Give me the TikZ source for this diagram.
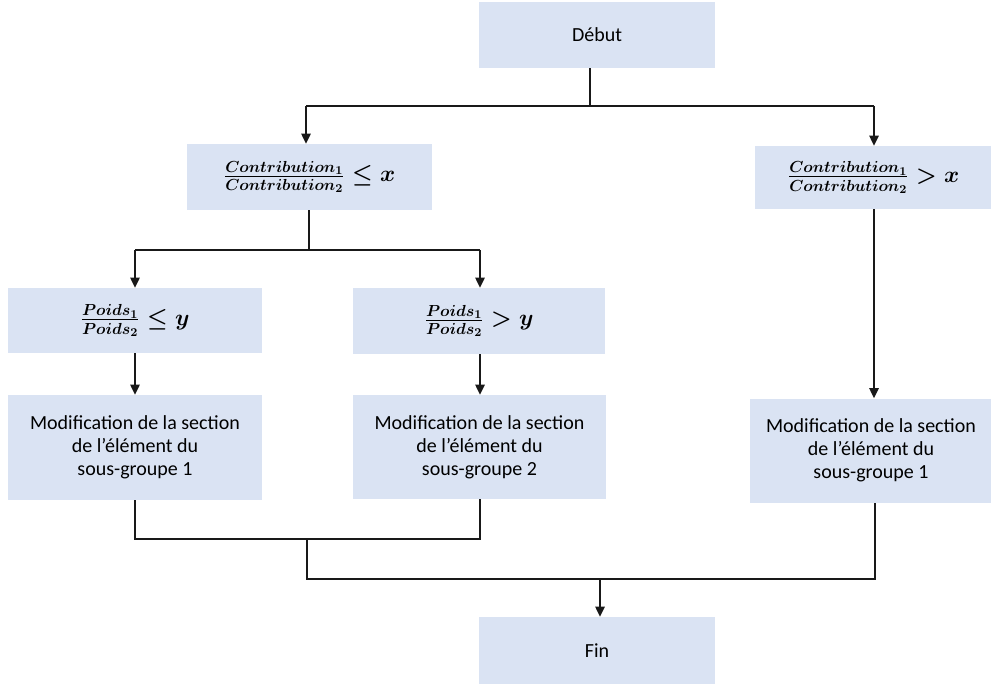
\documentclass[tikz,border=0pt]{standalone}
\usepackage{fontspec}
\setmainfont{Carlito}
\usetikzlibrary{arrows.meta}
\DeclareMathSizes{17}{17}{13}{9}
\definecolor{boxblue}{RGB}{218,227,243}
\tikzset{
  fbox/.style={fill=boxblue, draw=none, inner sep=0pt, align=center,
    font=\fontsize{15}{17.25}\selectfont},
  conn/.style={line width=1.1pt, draw=black!90},
  arr/.style={conn, -{Triangle[width=7pt,length=7.5pt]}},
  mathtxt/.style={font=\fontsize{17}{20}\selectfont\boldmath}
}
\begin{document}
\begin{tikzpicture}[x=0.75pt,y=-0.75pt]
\useasboundingbox (0,0) rectangle (991,684);
% boxes
\node[fbox, minimum width=177pt, minimum height=49.5pt] (deb) at (597,35) {Début};
\node[fbox, mathtxt, minimum width=183.75pt, minimum height=49.5pt] (c1) at (309.5,177)
  {$\frac{Contribution_1}{Contribution_2}\leq x$};
\node[fbox, mathtxt, minimum width=177.75pt, minimum height=47.25pt] (c2) at (873.5,177.5)
  {$\frac{Contribution_1}{Contribution_2}> x$};
\node[fbox, mathtxt, minimum width=190.5pt, minimum height=48.75pt] (p1) at (135,320.5)
  {$\frac{Poids_1}{Poids_2}\leq y$};
\node[fbox, mathtxt, minimum width=189pt, minimum height=49.5pt] (p2) at (479,321)
  {$\frac{Poids_1}{Poids_2}> y$};
\node[fbox, minimum width=190.5pt, minimum height=78.75pt] (m1) at (135,447.5)
  {Modification de la section\\de l’élément du\\sous-groupe 1};
\node[fbox, minimum width=189.75pt, minimum height=78pt] (m2) at (479.5,447)
  {Modification de la section\\de l’élément du\\sous-groupe 2};
\node[fbox, minimum width=181.5pt, minimum height=78pt] (m3) at (871,450.5)
  {Modification de la section\\de l’élément du\\sous-groupe 1};
\node[fbox, minimum width=177pt, minimum height=51pt] (fin) at (597,651) {Fin};
% junction coordinates
\coordinate (j0) at (590,106);
\coordinate (jl) at (306,106);
\coordinate (jr) at (874,106);
\coordinate (k0) at (309,250);
\coordinate (kl) at (135,250);
\coordinate (kr) at (480,250);
\coordinate (b1) at (135,539);
\coordinate (b2) at (480,539);
\coordinate (bm) at (307,539);
\coordinate (g1) at (307,579);
\coordinate (g2) at (875,579);
\coordinate (gf) at (600,579);
% connectors
\draw[conn] (deb.south -| j0) -- (j0);
\draw[conn] (jl) -- (jr);
\draw[arr] (jl) -- (c1.north -| jl);
\draw[arr] (jr) -- (c2.north -| jr);
\draw[conn] (c1.south -| k0) -- (k0);
\draw[conn] (kl) -- (kr);
\draw[arr] (kl) -- (p1.north -| kl);
\draw[arr] (kr) -- (p2.north -| kr);
\draw[arr] (p1.south -| kl) -- (m1.north -| kl);
\draw[arr] (p2.south -| kr) -- (m2.north -| kr);
\draw[arr] (c2.south -| jr) -- (m3.north -| jr);
\draw[conn] (m1.south -| b1) -- (b1) -- (b2) -- (m2.south -| b2);
\draw[conn] (bm) -- (g1) -- (g2) -- (m3.south -| g2);
\draw[arr] (gf) -- (fin.north -| gf);
\end{tikzpicture}
\end{document}
